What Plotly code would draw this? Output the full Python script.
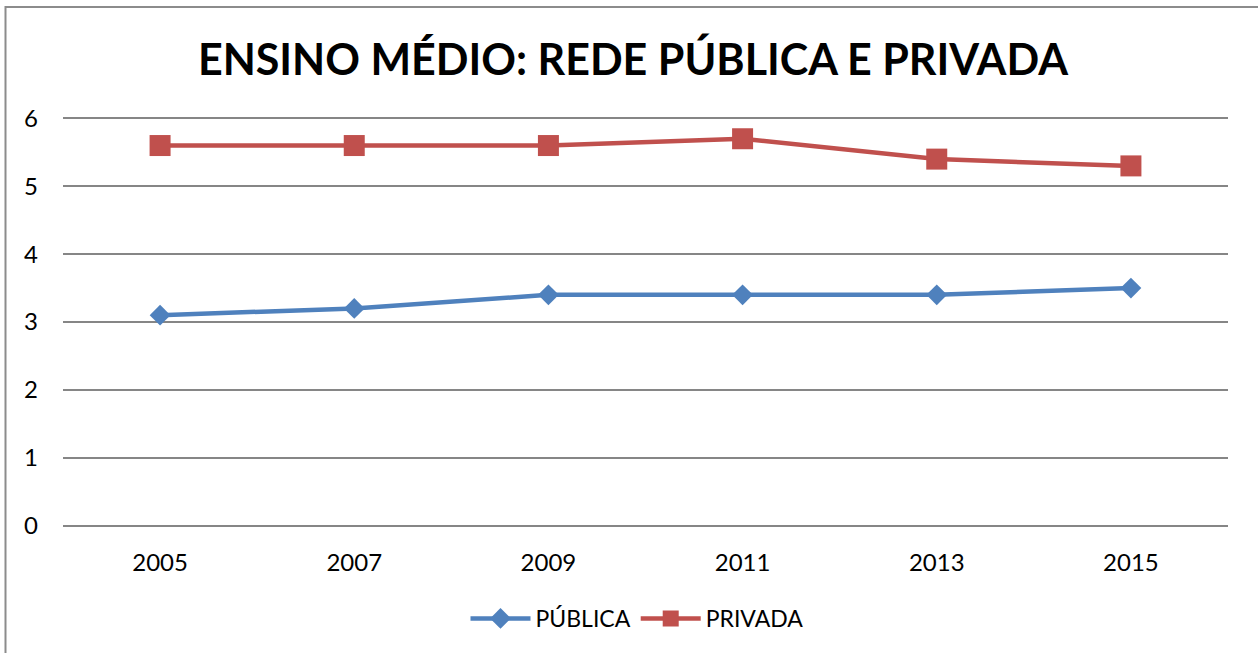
import plotly.graph_objects as go

years = ["2005", "2007", "2009", "2011", "2013", "2015"]
publica = [3.1, 3.2, 3.4, 3.4, 3.4, 3.5]
privada = [5.6, 5.6, 5.6, 5.7, 5.4, 5.3]
title_text = "ENSINO MÉDIO: REDE PÚBLICA E PRIVADA"

W, H = 1258, 653
# target plot area: x 63..1228, y(6)=118, y(0)=526
PAD = 0.05
UNIT = (526 - 118) / 6.0
L, R = 63, 30
T = 118 - PAD * UNIT
B = (H - 526) - PAD * UNIT
pw, ph = W - L - R, H - T - B

font = "Lato, 'Noto Sans', sans-serif"

fig = go.Figure()
fig.add_trace(go.Scatter(
    x=years, y=publica, name="PÚBLICA", mode="lines+markers",
    line=dict(color="#4F81BD", width=4.5),
    marker=dict(symbol="diamond", size=16, color="#4F81BD"),
))
fig.add_trace(go.Scatter(
    x=years, y=privada, name="PRIVADA", mode="lines+markers",
    line=dict(color="#C0504D", width=4.5),
    marker=dict(symbol="square", size=21, color="#C0504D"),
))

def px_x(p):
    return (p - L) / pw

def px_y(p):
    return (H - B - p) / ph

fig.add_shape(type="rect", xref="paper", yref="paper",
              x0=px_x(5.5), x1=px_x(1300), y0=px_y(700), y1=px_y(6.5),
              line=dict(color="#8C8C8C", width=2), fillcolor="rgba(0,0,0,0)",
              layer="below")

fig.update_layout(
    width=W, height=H,
    margin=dict(l=L, r=R, t=T, b=B, autoexpand=False),
    paper_bgcolor="white", plot_bgcolor="white",
    font=dict(family=font, size=22, color="#000000"),
    title=dict(text="<b>" + title_text + "</b>", x=633 / W, xanchor="center",
               y=1 - 60 / H, yanchor="middle", yref="container",
               font=dict(family=font, size=43, color="#000000")),
    xaxis=dict(type="category", range=[-0.5, 5.5], showgrid=False,
               showline=False, zeroline=False, ticks="",
               ticklabelstandoff=17, tickfont=dict(size=24)),
    yaxis=dict(range=[-PAD, 6 + PAD], dtick=1, tick0=0, showgrid=True,
               gridcolor="#868686", gridwidth=1.5, zeroline=False,
               showline=False, ticks="",
               ticklabelstandoff=24, tickfont=dict(size=24)),
    legend=dict(orientation="h", x=px_x(637), xref="paper", xanchor="center",
                y=px_y(619), yanchor="middle", font=dict(size=23),
                itemwidth=60, tracegroupgap=0),
    showlegend=True,
)

fig.write_html("out.html")
